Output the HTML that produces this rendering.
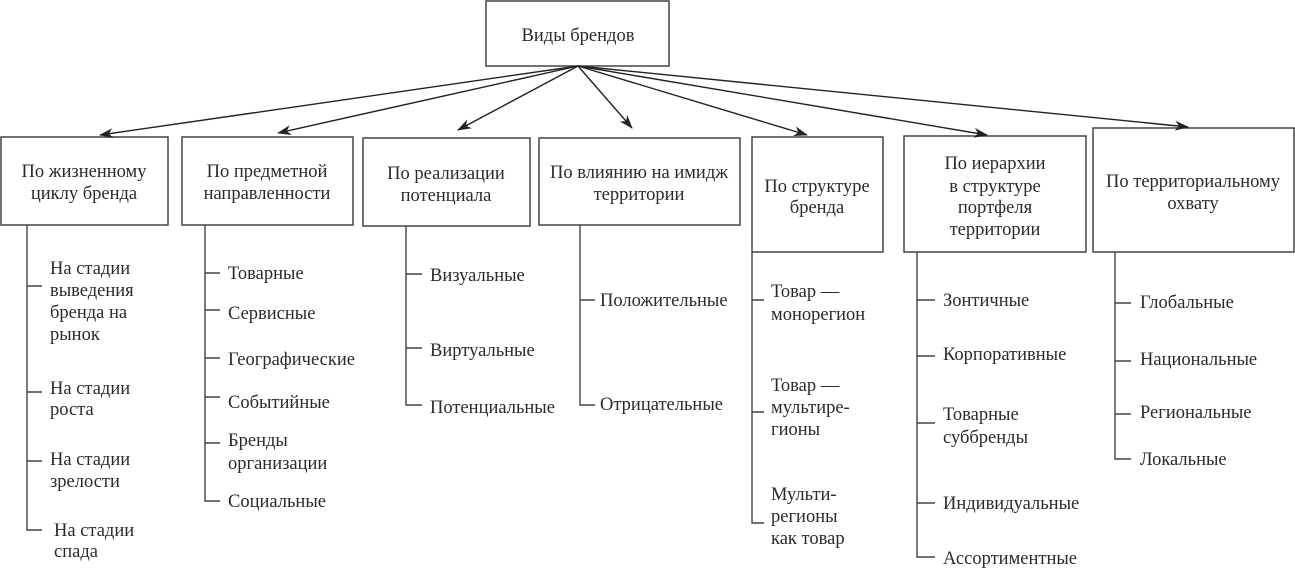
<!DOCTYPE html>
<html><head><meta charset="utf-8"><style>
html,body{margin:0;padding:0;background:#fff;}
svg{display:block;}
text{font-family:"Liberation Serif",serif;font-size:18.5px;fill:#2a2a2a;}
</style></head><body>
<svg width="1295" height="569" viewBox="0 0 1295 569" xmlns="http://www.w3.org/2000/svg">
<defs><marker id="a" markerWidth="14" markerHeight="10" refX="13" refY="5" orient="auto" markerUnits="userSpaceOnUse"><path d="M0,0 L14,5 L0,10 L4,5 Z" fill="#222"/></marker></defs>
<g fill="none" stroke="#444" stroke-width="1.5">
<rect x="486" y="1" width="183" height="65"/>
<rect x="1" y="137" width="167" height="88"/>
<rect x="182" y="137" width="171" height="88"/>
<rect x="363" y="138" width="167" height="88"/>
<rect x="539" y="138" width="201" height="87"/>
<rect x="752" y="137" width="131" height="115"/>
<rect x="904" y="136" width="182" height="116"/>
<rect x="1093" y="128" width="201" height="124"/>
</g>
<g stroke="#222" stroke-width="1.4" marker-end="url(#a)">
<line x1="578" y1="66" x2="100" y2="135"/>
<line x1="578" y1="66" x2="278" y2="133"/>
<line x1="578" y1="66" x2="458" y2="130"/>
<line x1="578" y1="66" x2="632" y2="128"/>
<line x1="578" y1="66" x2="807" y2="135"/>
<line x1="578" y1="66" x2="987" y2="135"/>
<line x1="578" y1="66" x2="1188" y2="127"/>
</g>
<g stroke="#444" stroke-width="1.4" fill="none">
<path d="M27,225 V530 H42 M27,286 H42 M27,392 H42 M27,461 H42"/>
<path d="M205,225 V501 H220 M205,273 H220 M205,310 H220 M205,358 H220 M205,397 H220 M205,443 H220"/>
<path d="M406,226 V405 H422 M406,274 H422 M406,348 H422"/>
<path d="M580,225 V405 H595 M580,300 H595"/>
<path d="M752,252 V523 H764 M752,300 H764 M752,412 H764"/>
<path d="M917,252 V557 H935 M917,300 H935 M917,356 H935 M917,423 H935 M917,503 H935"/>
<path d="M1115,252 V459 H1131 M1115,303 H1131 M1115,361 H1131 M1115,414 H1131"/>
</g>
<g text-anchor="middle">
<text x="578" y="41">Виды брендов</text>
<text x="84" y="177">По жизненному</text><text x="84" y="199">циклу бренда</text>
<text x="267" y="177">По предметной</text><text x="267" y="199">направленности</text>
<text x="446" y="179">По реализации</text><text x="446" y="201">потенциала</text>
<text x="639" y="178">По влиянию на имидж</text><text x="639" y="200">территории</text>
<text x="817" y="192">По структуре</text><text x="817" y="213">бренда</text>
<text x="995" y="169">По иерархии</text><text x="995" y="192">в структуре</text><text x="995" y="213">портфеля</text><text x="995" y="235">территории</text>
<text x="1193" y="187">По территориальному</text><text x="1193" y="209">охвату</text>
</g>
<g>
<text x="50" y="274">На стадии</text><text x="50" y="296">выведения</text><text x="50" y="318">бренда на</text><text x="50" y="340">рынок</text>
<text x="50" y="394">На стадии</text><text x="50" y="415">роста</text>
<text x="50" y="465">На стадии</text><text x="50" y="487">зрелости</text>
<text x="54" y="536">На стадии</text><text x="54" y="557">спада</text>
<text x="228" y="279">Товарные</text>
<text x="228" y="319">Сервисные</text>
<text x="228" y="365">Географические</text>
<text x="228" y="408">Событийные</text>
<text x="228" y="446">Бренды</text><text x="228" y="469">организации</text>
<text x="228" y="507">Социальные</text>
<text x="430" y="281">Визуальные</text>
<text x="430" y="356">Виртуальные</text>
<text x="430" y="413">Потенциальные</text>
<text x="600" y="306">Положительные</text>
<text x="600" y="410">Отрицательные</text>
<text x="771" y="297">Товар —</text><text x="771" y="320">монорегион</text>
<text x="771" y="391">Товар —</text><text x="771" y="413">мультире-</text><text x="771" y="435">гионы</text>
<text x="771" y="500">Мульти-</text><text x="771" y="522">регионы</text><text x="771" y="544">как товар</text>
<text x="943" y="306">Зонтичные</text>
<text x="943" y="360">Корпоративные</text>
<text x="943" y="420">Товарные</text><text x="943" y="443">суббренды</text>
<text x="943" y="509">Индивидуальные</text>
<text x="943" y="564">Ассортиментные</text>
<text x="1140" y="308">Глобальные</text>
<text x="1140" y="365">Национальные</text>
<text x="1140" y="418">Региональные</text>
<text x="1140" y="465">Локальные</text>
</g>
</svg>
</body></html>
